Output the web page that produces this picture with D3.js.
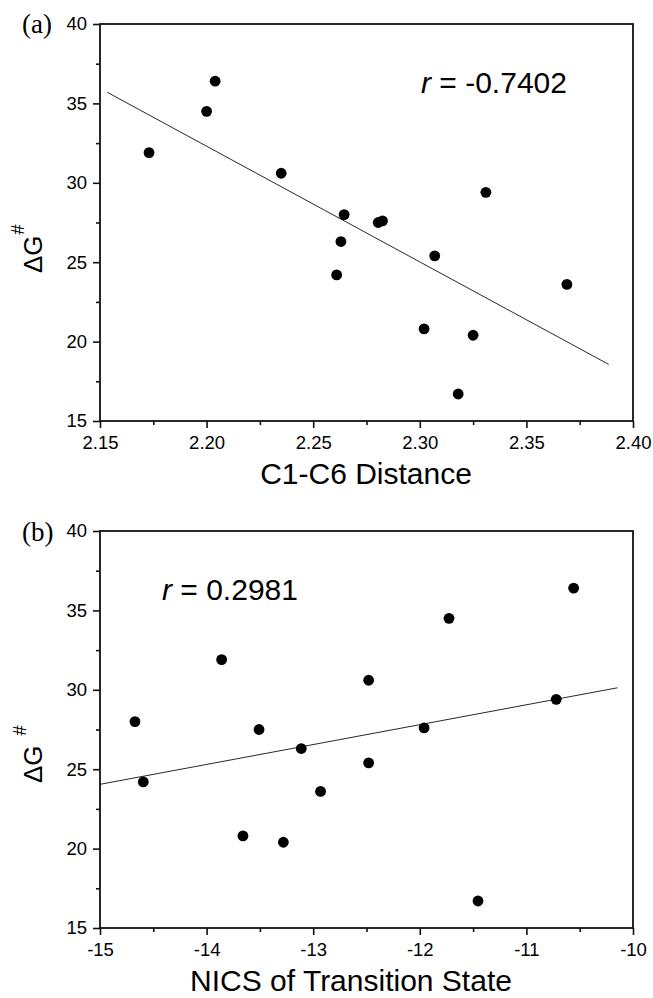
<!DOCTYPE html>
<html>
<head>
<meta charset="utf-8">
<script src="https://cdn.jsdelivr.net/npm/d3@7"></script>
<style>
  html, body { margin: 0; padding: 0; background: #fff; }
  svg { display: block; }
</style>
</head>
<body>
<svg id="chart" width="653" height="998" font-family="Liberation Sans, Arial, sans-serif"></svg>
<script>
// ---- data ----
const dG = [31.9, 34.5, 36.4, 30.6, 28.0, 27.5, 27.6, 26.3, 29.4, 24.2, 25.4, 23.6, 20.8, 20.4, 16.7];
const c1c6Distance = [2.173, 2.200, 2.204, 2.235, 2.2645, 2.2805, 2.2825, 2.263, 2.331, 2.261, 2.307, 2.369, 2.302, 2.325, 2.318];
const nicsTS = [-13.859, -11.726, -10.557, -12.48, -14.672, -13.508, -11.96, -13.112, -10.72, -14.594, -12.48, -12.931, -13.659, -13.28, -11.454];

const yTicks = [15, 20, 25, 30, 35, 40];
const yMinor = [17.5, 22.5, 27.5, 32.5, 37.5];
const xTicksA = [2.15, 2.20, 2.25, 2.30, 2.35, 2.40];
const xMinorA = [2.175, 2.225, 2.275, 2.325, 2.375];
const xTicksB = [-15, -14, -13, -12, -11, -10];
const xMinorB = [-14.5, -13.5, -12.5, -11.5, -10.5];

const rTexts = ["-0.7402", "0.2981"];

const SANS = "'Liberation Sans', Arial, sans-serif";
const SERIF = "'Liberation Serif', 'Times New Roman', serif";

const svg = d3.select("#chart");

function linFit(xs, ys) {
  const mx = d3.mean(xs), my = d3.mean(ys);
  let sxy = 0, sxx = 0;
  xs.forEach((x, i) => { sxy += (x - mx) * (ys[i] - my); sxx += (x - mx) * (x - mx); });
  const b = sxy / sxx;
  return { slope: b, intercept: my - b * mx };
}

function panel(cfg) {
  const g = svg.append("g");
  const x = d3.scaleLinear().domain(cfg.xDomain).range([cfg.left, cfg.right]);
  const y = d3.scaleLinear().domain([15, 40]).range([cfg.bottom, cfg.top]);

  const clipId = "clip" + cfg.id;
  svg.append("clipPath").attr("id", clipId).append("rect")
    .attr("x", cfg.left).attr("y", cfg.top)
    .attr("width", cfg.right - cfg.left).attr("height", cfg.bottom - cfg.top);

  // minor ticks
  g.append("g").attr("transform", `translate(0,${cfg.bottom})`)
    .call(d3.axisBottom(x).tickValues(cfg.xMinor).tickSize(4).tickFormat(""))
    .call(s => s.select(".domain").remove());
  g.append("g").attr("transform", `translate(${cfg.left},0)`)
    .call(d3.axisLeft(y).tickValues(yMinor).tickSize(4).tickFormat(""))
    .call(s => s.select(".domain").remove());

  // major axes
  const xa = g.append("g").attr("transform", `translate(0,${cfg.bottom})`)
    .call(d3.axisBottom(x).tickValues(cfg.xTicks).tickSize(7).tickPadding(8).tickFormat(cfg.xFmt));
  const ya = g.append("g").attr("transform", `translate(${cfg.left},0)`)
    .call(d3.axisLeft(y).tickValues(yTicks).tickSize(7).tickPadding(6).tickFormat(d => String(d)));
  [xa, ya].forEach(a => {
    a.selectAll(".domain").remove();
    a.attr("font-family", SANS).attr("font-size", 18);
    a.selectAll("text").style("font-size", "18.5px").style("font-family", SANS).attr("fill", "#000");
  });
  g.selectAll(".tick line").attr("stroke", "#111").attr("stroke-width", 1.6);

  // frame
  g.append("rect")
    .attr("x", cfg.left).attr("y", cfg.top)
    .attr("width", cfg.right - cfg.left).attr("height", cfg.bottom - cfg.top)
    .attr("fill", "none").attr("stroke", "#111").attr("stroke-width", 1.8);

  // fit line
  const fit = linFit(cfg.xs, dG);
  const [mn, mx] = d3.extent(cfg.xs);
  const ext = (mx - mn) * 0.1;
  const fx = [mn - ext, mx + ext];
  g.append("line")
    .attr("clip-path", `url(#${clipId})`)
    .attr("x1", x(fx[0])).attr("y1", y(fit.intercept + fit.slope * fx[0]))
    .attr("x2", x(fx[1])).attr("y2", y(fit.intercept + fit.slope * fx[1]))
    .attr("stroke", "#111").attr("stroke-width", 0.9);

  // points
  g.selectAll("circle.pt").data(cfg.xs.map((v, i) => [v, dG[i]])).join("circle")
    .attr("class", "pt")
    .attr("cx", d => x(d[0])).attr("cy", d => y(d[1])).attr("r", 5.4)
    .attr("fill", "#000");

  // r text
  const rt = g.append("text").attr("x", cfg.rX).attr("y", cfg.rY)
    .style("font-family", SANS).style("font-size", "30px");
  rt.append("tspan").style("font-style", "italic").text("r");
  rt.append("tspan").text(" = " + cfg.rText);

  // panel letter
  g.append("text").attr("x", 22).attr("y", cfg.letterY)
    .style("font-family", SERIF).style("font-size", "27px").text(cfg.letter);

  // x title
  g.append("text").attr("x", cfg.xTitleX).attr("y", cfg.bottom + 63)
    .attr("text-anchor", "middle")
    .style("font-family", SANS).style("font-size", "30px").text(cfg.xTitle);

  // y title
  const yt = g.append("text")
    .attr("transform", `translate(42,${cfg.yTitleStart}) rotate(-90)`)
    .style("font-family", SANS).style("font-size", "26px");
  yt.append("tspan").text("\u0394G");
  yt.append("tspan").style("font-size", "18px").attr("dx", cfg.hashDx).attr("dy", cfg.hashDy).text("#");
}

panel({
  id: "a", letter: "(a)", letterY: 33,
  left: 100, right: 633, top: 24, bottom: 421,
  xDomain: [2.15, 2.40], xTicks: xTicksA, xMinor: xMinorA, xFmt: d3.format(".2f"),
  xs: c1c6Distance, rText: rTexts[0], rX: 421, rY: 93,
  xTitle: "C1-C6 Distance", xTitleX: 366,
  yTitleStart: 273, hashDx: 1, hashDy: -18
});

panel({
  id: "b", letter: "(b)", letterY: 541,
  left: 100, right: 633, top: 531, bottom: 928,
  xDomain: [-15, -10], xTicks: xTicksB, xMinor: xMinorB, xFmt: d => String(d),
  xs: nicsTS, rText: rTexts[1], rX: 162, rY: 600,
  xTitle: "NICS of Transition State", xTitleX: 351,
  yTitleStart: 783, hashDx: 10, hashDy: -16
});
</script>
</body>
</html>
